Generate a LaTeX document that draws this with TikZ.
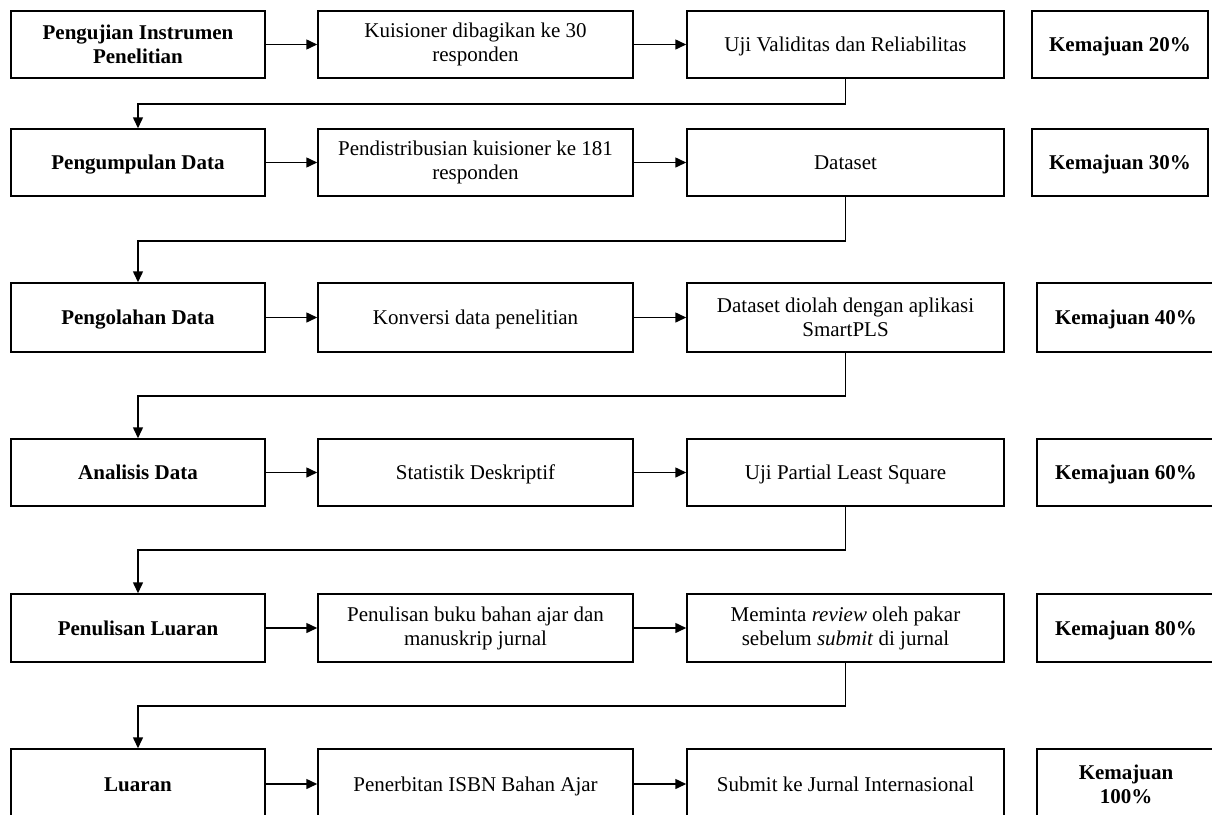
\documentclass[tikz,border=0pt]{standalone}
\usepackage{fontspec}
\setmainfont{Liberation Serif}
\usetikzlibrary{arrows.meta}
\tikzset{
  box/.style={draw, line width=1.5pt, inner sep=0pt, align=center,
    font=\fontsize{21}{24}\selectfont},
  boldbox/.style={box, font=\fontsize{21}{24}\selectfont\bfseries},
  one/.style={text height=18pt, text depth=4pt},
  arr/.style={line width=1.5pt, -{Triangle[length=11pt,width=10pt]}},
  cA/.style={minimum width=254pt},
  cB/.style={minimum width=315pt},
  cC/.style={minimum width=317pt},
  cD/.style={minimum width=176pt},
  cE/.style={minimum width=178pt},
}
\begin{document}
\begin{tikzpicture}[x=1pt,y=1pt]
\useasboundingbox (0,0) rectangle (1212,-814);
% Row 1
\node[boldbox,cA,minimum height=67pt] (a1) at (138,-44.5) {Pengujian Instrumen\\Penelitian};
\node[box,cB,minimum height=67pt] (a2) at (475.5,-44.5) {Kuisioner dibagikan ke 30\\responden};
\node[box,one,cC,minimum height=67pt] (a3) at (845.5,-44.5) {Uji Validitas dan Reliabilitas};
\node[boldbox,one,cD,minimum height=67pt] (a4) at (1120,-44.5) {Kemajuan 20\%};
% Row 2
\node[boldbox,one,cA,minimum height=67pt] (b1) at (138,-162.5) {Pengumpulan Data};
\node[box,cB,minimum height=67pt] (b2) at (475.5,-162.5) {Pendistribusian kuisioner ke 181\\responden};
\node[box,one,cC,minimum height=67pt] (b3) at (845.5,-162.5) {Dataset};
\node[boldbox,one,cD,minimum height=67pt] (b4) at (1120,-162.5) {Kemajuan 30\%};
% Row 3
\node[boldbox,one,cA,minimum height=69pt] (c1) at (138,-317.5) {Pengolahan Data};
\node[box,one,cB,minimum height=69pt] (c2) at (475.5,-317.5) {Konversi data penelitian};
\node[box,cC,minimum height=69pt] (c3) at (845.5,-317.5) {Dataset diolah dengan aplikasi\\SmartPLS};
\node[boldbox,one,cE,minimum height=69pt] (c4) at (1126,-317.5) {Kemajuan 40\%};
% Row 4
\node[boldbox,one,cA,minimum height=67pt] (d1) at (138,-472.5) {Analisis Data};
\node[box,one,cB,minimum height=67pt] (d2) at (475.5,-472.5) {Statistik Deskriptif};
\node[box,one,cC,minimum height=67pt] (d3) at (845.5,-472.5) {Uji Partial Least Square};
\node[boldbox,one,cE,minimum height=67pt] (d4) at (1126,-472.5) {Kemajuan 60\%};
% Row 5
\node[boldbox,one,cA,minimum height=68pt] (e1) at (138,-628) {Penulisan Luaran};
\node[box,cB,minimum height=68pt] (e2) at (475.5,-628) {Penulisan buku bahan ajar dan\\manuskrip jurnal};
\node[box,cC,minimum height=68pt] (e3) at (845.5,-628) {Meminta \textit{review} oleh pakar\\sebelum \textit{submit} di jurnal};
\node[boldbox,one,cE,minimum height=68pt] (e4) at (1126,-628) {Kemajuan 80\%};
% Row 6
\node[boldbox,one,cA,minimum height=70pt] (f1) at (138,-784) {Luaran};
\node[box,one,cB,minimum height=70pt] (f2) at (475.5,-784) {Penerbitan ISBN Bahan Ajar};
\node[box,one,cC,minimum height=70pt] (f3) at (845.5,-784) {Submit ke Jurnal Internasional};
\node[boldbox,cE,minimum height=70pt] (f4) at (1126,-784) {Kemajuan\\100\%};
% horizontal arrows
\foreach \r in {a,b,c,d,e,f}{
  \draw[arr] (\r1.east) -- (\r2.west);
  \draw[arr] (\r2.east) -- (\r3.west);
}
% row connectors
\draw[arr] (a3.south) -- ++(0,-25) -| (b1.north);
\draw[arr] (b3.south) -- ++(0,-44) -| (c1.north);
\draw[arr] (c3.south) -- ++(0,-43) -| (d1.north);
\draw[arr] (d3.south) -- ++(0,-43) -| (e1.north);
\draw[arr] (e3.south) -- ++(0,-43) -| (f1.north);
\end{tikzpicture}
\end{document}
